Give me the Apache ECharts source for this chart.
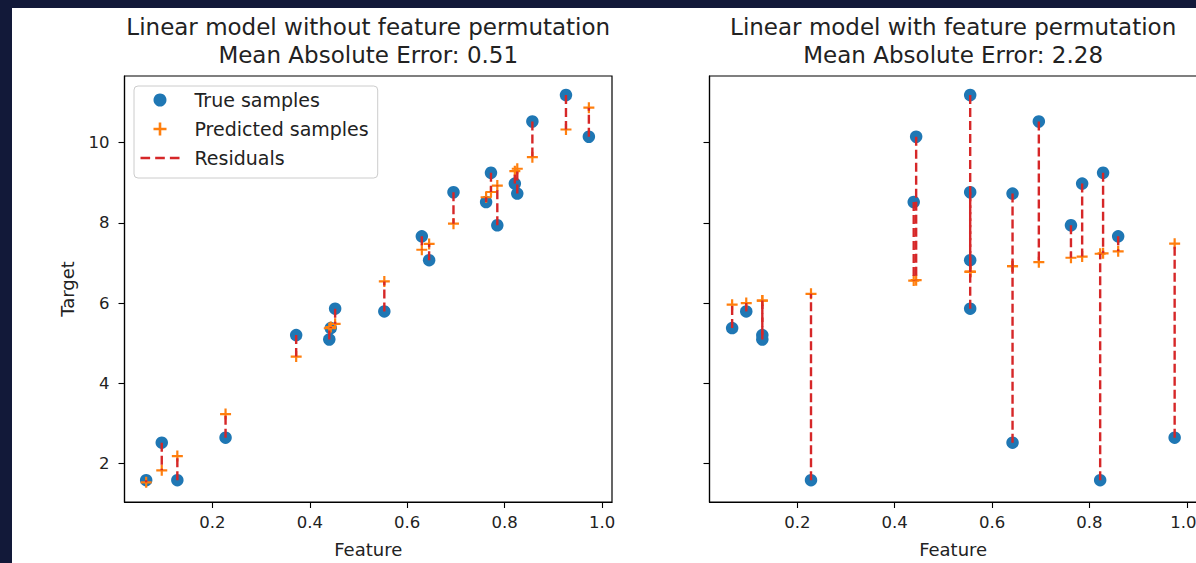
<!DOCTYPE html>
<html>
<head>
<meta charset="utf-8">
<script src="https://cdn.jsdelivr.net/npm/echarts@6/dist/echarts.min.js"></script>
<style>
  html, body { margin: 0; padding: 0; width: 1196px; height: 563px; overflow: hidden; background: #121939; }
  #panel { position: absolute; left: 12px; top: 8px; width: 1184px; height: 555px; background: #ffffff; }
  #chart { position: absolute; left: 0; top: 0; width: 1230px; height: 563px; }
</style>
</head>
<body>
<div id="panel"></div>
<div id="chart"></div>
<script>
// Tick positions shared by both panels
const xTicks = [0.2, 0.4, 0.6, 0.8, 1.0];
const yTicks = [2, 4, 6, 8, 10];

// Panel 1: original feature
const featureX   = [0.064, 0.096, 0.128, 0.227, 0.372, 0.440, 0.443, 0.452, 0.553, 0.630, 0.645, 0.695, 0.762, 0.772, 0.785, 0.821, 0.826, 0.857, 0.926, 0.973];
const targetY    = [1.58, 2.515, 1.58, 2.64, 5.20, 5.09, 5.375, 5.86, 5.79, 7.665, 7.07, 8.765, 8.52, 9.25, 7.94, 8.98, 8.73, 10.53, 11.19, 10.15];
const predictedY = [1.525, 1.825, 2.18, 3.23, 4.665, 5.37, 5.40, 5.48, 6.54, 7.33, 7.475, 7.98, 8.64, 8.77, 8.93, 9.29, 9.35, 9.64, 10.33, 10.875];

// Panel 2: permuted feature
const permFeatureX   = [0.066, 0.095, 0.128, 0.128, 0.228, 0.439, 0.444, 0.555, 0.555, 0.555, 0.555, 0.642, 0.642, 0.696, 0.762, 0.785, 0.828, 0.822, 0.859, 0.975];
const permTargetY    = [5.375, 5.79, 5.20, 5.09, 1.58, 8.52, 10.15, 11.19, 8.765, 7.07, 5.86, 8.73, 2.515, 10.53, 7.94, 8.98, 9.25, 1.58, 7.665, 2.64];
const permPredictedY = [5.96, 6.00, 6.06, 6.06, 6.23, 6.56, 6.57, 6.78, 6.78, 6.78, 6.78, 6.92, 6.92, 7.02, 7.13, 7.16, 7.24, 7.23, 7.29, 7.48];

const panelTitles = [
  'Linear model without feature permutation\nMean Absolute Error: 0.51',
  'Linear model with feature permutation\nMean Absolute Error: 2.28'
];
const seriesNames = ['True samples', 'Predicted samples', 'Residuals'];

const FONT = 'DejaVu Sans';
const TEXT = '#222222';
const BLUE = '#1f77b4';
const ORANGE = '#ff7f0e';
const RED = '#d62728';
const PLUS = 'path://M4.4,0H6.6V11H4.4ZM0,4.4H11V6.6H0Z';
const DASHES = 'path://M0,0H9.5V2.4H0ZM14.5,0H24V2.4H14.5ZM29,0H38.5V2.4H29Z';

const X_MIN = 0.0195, X_MAX = 1.0205;
const Y_MIN = 1.035, Y_MAX = 11.665;

const grids = [
  { left: 124.5, top: 76, width: 487.5, height: 426 },
  { left: 709.5, top: 76, width: 487.3, height: 426 }
];

function pairs(xs, ys) { return xs.map((x, i) => [x, ys[i]]); }
function triples(xs, a, b) { return xs.map((x, i) => [x, a[i], b[i]]); }

function xAxis(i) {
  const label = { customValues: xTicks, fontSize: 16.5, color: TEXT, fontFamily: FONT, margin: 12,
                  formatter: v => v.toFixed(1) };
  if (i === 1) {
    // last label sits at the window edge: nudge it inward a little
    label.formatter = v => (v === 1 ? '{edge|1.0}' : v.toFixed(1));
    label.rich = { edge: { fontSize: 16.5, color: TEXT, fontFamily: FONT, padding: [0, 7, 0, 0] } };
  }
  return {
    gridIndex: i, type: 'value', min: X_MIN, max: X_MAX,
    axisLine: { show: true, onZero: false, lineStyle: { color: '#000', width: 1.2 } },
    axisTick: { show: true, customValues: xTicks, length: 6, lineStyle: { color: '#000', width: 1.1 } },
    axisLabel: label,
    splitLine: { show: false },
    name: 'Feature', nameLocation: 'middle', nameGap: 38,
    nameTextStyle: { fontSize: 18, color: TEXT, fontFamily: FONT }
  };
}
function yAxis(i, withLabels) {
  const ax = {
    gridIndex: i, type: 'value', min: Y_MIN, max: Y_MAX,
    axisLine: { show: true, onZero: false, lineStyle: { color: '#000', width: 1.2 } },
    axisTick: { show: true, customValues: yTicks, length: 6, lineStyle: { color: '#000', width: 1.1 } },
    axisLabel: { show: withLabels, customValues: yTicks, fontSize: 16.5, color: TEXT, fontFamily: FONT, margin: 15 },
    splitLine: { show: false }
  };
  if (withLabels) {
    ax.name = 'Target';
    ax.nameLocation = 'middle';
    ax.nameGap = 48;
    ax.nameTextStyle = { fontSize: 18, color: TEXT, fontFamily: FONT };
  }
  return ax;
}

// vertical dashed segment from the true value to the predicted value
function renderResidual(params, api) {
  const x = api.value(0);
  const p0 = api.coord([x, api.value(1)]);
  const p1 = api.coord([x, api.value(2)]);
  return {
    type: 'line',
    shape: { x1: p0[0], y1: p0[1], x2: p1[0], y2: p1[1] },
    style: { stroke: RED, lineWidth: 2.4, lineDash: [9, 4], fill: null }
  };
}

function panelSeries(i, xs, yt, yp) {
  return [
    { name: seriesNames[0], type: 'scatter', xAxisIndex: i, yAxisIndex: i, data: pairs(xs, yt),
      symbol: 'circle', symbolSize: 12.5, itemStyle: { color: BLUE, opacity: 1 }, z: 2 },
    { name: seriesNames[1], type: 'scatter', xAxisIndex: i, yAxisIndex: i, data: pairs(xs, yp),
      symbol: PLUS, symbolSize: 11, itemStyle: { color: ORANGE, opacity: 1 }, z: 2 },
    { name: seriesNames[2], type: 'custom', coordinateSystem: 'cartesian2d', xAxisIndex: i, yAxisIndex: i,
      data: triples(xs, yt, yp), encode: { x: 0, y: [1, 2] },
      renderItem: renderResidual, itemStyle: { color: RED }, z: 3 }
  ];
}

const chart = echarts.init(document.getElementById('chart'), null, { renderer: 'svg' });
chart.setOption({
  animation: false,
  backgroundColor: 'transparent',
  title: panelTitles.map((t, i) => ({
    text: t, left: grids[i].left + grids[i].width / 2, top: 13, textAlign: 'center', padding: 0,
    textStyle: { fontSize: 23, fontWeight: 'normal', lineHeight: 28, color: TEXT, fontFamily: FONT }
  })),
  legend: {
    left: 134, top: 86, orient: 'vertical', selectedMode: false,
    padding: [4.5, 9, 10.5, 6.5], itemWidth: 39, itemHeight: 13, itemGap: 10,
    backgroundColor: 'rgba(255,255,255,0.8)', borderColor: '#cccccc', borderWidth: 1, borderRadius: 4,
    textStyle: { fontSize: 19, color: TEXT, fontFamily: FONT, lineHeight: 19, padding: [0, 0, 0, 10] },
    data: [
      { name: seriesNames[0], icon: 'circle' },
      { name: seriesNames[1], icon: PLUS },
      { name: seriesNames[2], icon: DASHES }
    ]
  },
  grid: grids.map(g => Object.assign({ show: true, borderColor: '#000', borderWidth: 1.2, backgroundColor: 'transparent' }, g)),
  xAxis: [xAxis(0), xAxis(1)],
  yAxis: [yAxis(0, true), yAxis(1, false)],
  series: [
    ...panelSeries(0, featureX, targetY, predictedY),
    ...panelSeries(1, permFeatureX, permTargetY, permPredictedY)
  ]
});
</script>
</body>
</html>
